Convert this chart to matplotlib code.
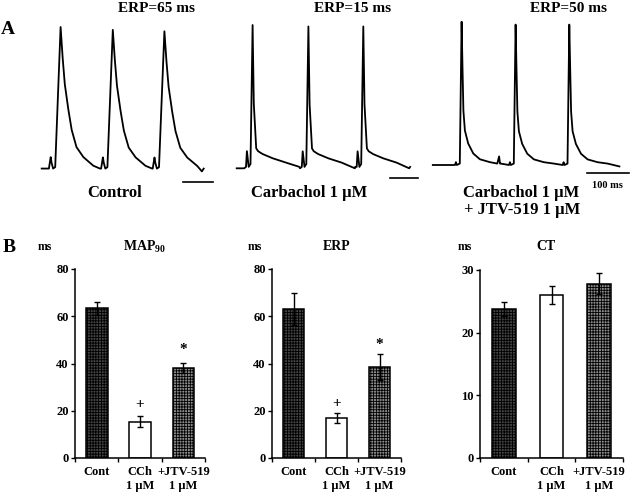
import numpy as np
import matplotlib
matplotlib.use("Agg")
import matplotlib.pyplot as plt

plt.rcParams['font.family'] = ['Liberation Serif', 'DejaVu Serif']
plt.rcParams['font.weight'] = 'bold'
plt.rcParams['mathtext.fontset'] = 'custom'
plt.rcParams['mathtext.rm'] = 'Liberation Serif:bold'
plt.rcParams['mathtext.bf'] = 'Liberation Serif:bold'
plt.rcParams['hatch.linewidth'] = 0.6

# ---- panel A: one beat (ms from peak, % of peak) ----
ctl_tpl_t = [-39, -33, -30, -25, -18, 0, 7, 14, 26, 37, 53, 76, 109, 131]
ctl_tpl_v = [1, 9, 5, 1, 2, 100, 78, 60, 42, 28, 16, 9, 3, 1]
ctl_peaks = [102, 276, 448]
ctl_heights = [100, 98, 97]
ctl_ends = [(39, 1), (573, -1)]

cch_tpl_t = [-28, -22, -19, -13, -7, 0, 4, 12, 18, 33, 67, 111, 156]
cch_tpl_v = [0, 1, 12, 1, 3, 100, 45, 14, 12, 10, 7, 4, 1]
cch_peaks = [92, 278, 461]
cch_heights = [100, 99, 99]
cch_ends = [(39, 0), (614, 0)]

jtv_tpl_t = [-22, -19, -16, -6, 0, 3, 6, 11, 22, 39, 61, 94, 128]
jtv_tpl_v = [0, 2, 0, 1, 100, 68, 38, 24, 15, 8, 4, 2, 1]
jtv_peaks = [122, 302, 481]
jtv_heights = [100, 98, 98]
jtv_ends = [(26, 0), (648, -1)]
jtv_extra_t = [241, 247, 252]
jtv_extra_v = [1, 6, 1]

erp_titles = ["ERP=65 ms", "ERP=15 ms", "ERP=50 ms"]

# ---- panel B ----
groups = ["Cont", "CCh\n1 μM", "+JTV-519\n1 μM"]
map90_mean = [63.3, 15.3, 38.0]
map90_sem = [2.6, 2.3, 2.2]
erp_mean = [63.0, 17.0, 38.5]
erp_sem = [6.8, 2.2, 5.4]
ct_mean = [23.8, 26.0, 27.8]
ct_sem = [1.1, 1.4, 1.7]
map90_marks = [(1, 22.5, "+"), (2, 46.0, "*")]
erp_marks = [(1, 23.0, "+"), (2, 48.0, "*")]

W, H = 640.0, 495.0
fig = plt.figure(figsize=(6.4, 4.95), dpi=100)


def px_axes(x0, y0, x1, y1):
    return fig.add_axes([x0 / W, 1 - y1 / H, (x1 - x0) / W, (y1 - y0) / H])


def px_text(x, y, s, size, **kw):
    fig.text(x / W, 1 - y / H, s, fontsize=size, fontweight='bold',
             ha=kw.pop('ha', 'center'), va=kw.pop('va', 'center'), **kw)


def build_trace(tpl_t, tpl_v, peaks, heights, ends, extra_t=(), extra_v=()):
    pts = [ends[0], ends[1]]
    for pk, hh in zip(peaks, heights):
        for dt, v in zip(tpl_t, tpl_v):
            pts.append((pk + dt, v * hh / 100.0))
    pts += list(zip(extra_t, extra_v))
    pts.sort()
    t, v = zip(*pts)
    return np.array(t), np.array(v)


traces = [
    (build_trace(ctl_tpl_t, ctl_tpl_v, ctl_peaks, ctl_heights, ctl_ends),
     30, (-10.5, 108.4), (510, 610, -8.4)),
    (build_trace(cch_tpl_t, cch_tpl_v, cch_peaks, cch_heights, cch_ends),
     225, (-11.65, 107.0), (550, 643, -6.5)),
    (build_trace(jtv_tpl_t, jtv_tpl_v, jtv_peaks, jtv_heights, jtv_ends, jtv_extra_t, jtv_extra_v),
     425, (-13.96, 104.7), (540, 680, -5.4)),
]

for (t, v), x0, ylim, sbar in traces:
    ax = px_axes(x0, 15, x0 + 210, 185)
    ax.plot(t, v, color='k', lw=1.3)
    ax.plot([sbar[0], sbar[1]], [sbar[2], sbar[2]], color='k', lw=1.2)
    ax.set_xlim(0, 700)
    ax.set_ylim(*ylim)
    ax.axis('off')

px_text(8, 29, "A", 14)
px_text(157, 9, erp_titles[0], 11)
px_text(353, 9, erp_titles[1], 11)
px_text(569, 9, erp_titles[2], 11)
px_text(115, 193, "Control", 12)
px_text(309, 193, "Carbachol 1 μM", 12)
px_text(521, 193, "Carbachol 1 μM", 12)
px_text(522, 210, "+ JTV-519 1 μM", 12)
px_text(607, 185, "100 ms", 7.5)

# ---- bar charts ----
bar_face = ['#444444', 'white', '#8c8c8c']
bar_hatch = ['++++++', '', '++++++']


def bar_panel(box, means, sems, ymax, yticks, title, tx, msx, marks):
    ax = px_axes(*box)
    xs = np.arange(len(means)) + 0.5
    for x, m, s, fc, hc in zip(xs, means, sems, bar_face, bar_hatch):
        ax.bar(x, m, width=0.5, color=fc, edgecolor='k', hatch=hc, lw=1.1, zorder=2)
        ax.errorbar(x, m, yerr=s, fmt='none', ecolor='k', elinewidth=1.0,
                    capsize=2.5, capthick=1.0, zorder=3)
    for gi, yv, sym in marks:
        ax.text(xs[gi], yv, sym, ha='center', va='center', fontsize=11, fontweight='bold')
    ax.set_xlim(0, 3)
    ax.set_ylim(0, ymax)
    ax.set_yticks(yticks)
    ax.set_xticks([0, 1, 2, 3])
    ax.set_xticklabels([])
    ax.set_xticks(xs, minor=True)
    ax.set_xticklabels(groups, minor=True, fontsize=9, fontweight='bold', linespacing=1.2)
    ax.tick_params(axis='x', which='minor', length=0, pad=6)
    ax.tick_params(axis='both', which='major', length=3, width=1, direction='out', labelsize=9)
    ax.tick_params(axis='y', pad=1.5)
    for lab in ax.get_yticklabels():
        lab.set_fontweight('bold')
    for sp in ['top', 'right']:
        ax.spines[sp].set_visible(False)
    for sp in ['left', 'bottom']:
        ax.spines[sp].set_linewidth(1.1)
    px_text(tx, 247, title, 10)
    px_text(msx, 247, "ms", 8.5)
    return ax


bar_panel((75, 269, 205, 458), map90_mean, map90_sem, 80, [0, 20, 40, 60, 80],
          r"MAP$_{90}$", 145, 45, map90_marks)
bar_panel((272, 269, 401, 458), erp_mean, erp_sem, 80, [0, 20, 40, 60, 80],
          "ERP", 337, 255, erp_marks)
bar_panel((480, 270, 623, 458), ct_mean, ct_sem, 30, [0, 10, 20, 30],
          "CT", 546, 465, [])

px_text(9, 247, "B", 14)

fig.savefig("out.png", dpi=100)
